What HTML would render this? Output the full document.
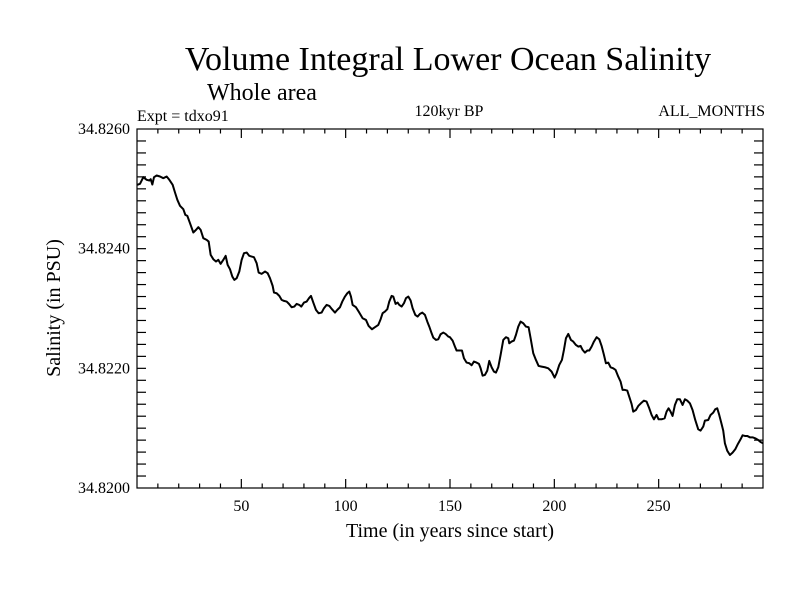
<!DOCTYPE html>
<html><head><meta charset="utf-8"><style>
html,body{margin:0;padding:0;background:#fff;width:800px;height:600px;overflow:hidden}
svg{display:block}
text{font-family:"Liberation Serif",serif;fill:#000}
</style></head><body>
<svg id="chart" width="800" height="600">
<text x="448" y="70" font-size="34" text-anchor="middle">Volume Integral Lower Ocean Salinity</text>
<text x="207" y="100" font-size="24">Whole area</text>
<text x="137" y="121" font-size="16">Expt = tdxo91</text>
<text x="449" y="116" font-size="16" text-anchor="middle">120kyr BP</text>
<text x="765" y="116" font-size="16" text-anchor="end">ALL_MONTHS</text>
<text x="450" y="537" font-size="20" text-anchor="middle">Time (in years since start)</text>
<text transform="translate(60,308) rotate(-90)" font-size="20" text-anchor="middle">Salinity (in PSU)</text>
<g id="axes"></g>
<g id="series"></g>
</svg>
<script>
const xTickLabels = [50, 100, 150, 200, 250];
const yTickLabels = [34.8200, 34.8220, 34.8240, 34.8260];
const years = [0.16,1.44,3.03,4.63,5.91,6.55,7.35,8.15,9.42,11.02,12.62,14.21,15.49,17.09,18.21,19.33,20.6,22.2,23.16,24.12,25.4,26.99,28.27,29.39,30.51,31.78,33.38,34.34,35.3,36.57,37.85,38.97,40.09,41.37,42.49,43.44,44.56,45.68,46.64,47.76,49.03,50.15,51.27,52.55,53.82,54.94,56.06,57.34,58.3,59.74,61.33,62.61,63.73,65.01,65.64,66.92,68.2,69.32,70.44,71.72,72.83,74.11,75.39,76.51,77.78,78.74,80.02,81.3,82.42,83.37,84.49,85.77,87.05,88.48,89.6,90.88,92.16,93.44,94.87,95.99,97.27,98.38,99.66,100.78,101.74,102.54,103.34,104.93,106.53,108.13,109.73,111.0,112.6,114.04,115.64,116.75,117.71,118.83,119.95,120.9,122.03,122.82,123.94,124.9,125.7,126.82,127.93,128.89,130.01,131.13,132.09,133.36,134.48,135.6,136.72,138.0,139.12,140.07,141.19,141.99,143.27,144.39,145.5,146.78,147.9,149.18,149.98,151.25,152.37,153.17,154.45,155.73,156.68,157.96,159.24,160.36,161.47,162.75,163.87,164.67,165.63,166.75,167.86,168.82,169.94,171.06,172.02,173.13,174.25,175.53,176.81,177.93,178.4,179.52,180.64,181.6,182.72,183.84,185.11,186.39,187.67,188.63,189.9,191.18,192.46,193.9,195.5,197.09,198.69,200.13,201.09,202.36,203.64,204.6,205.56,206.68,207.95,209.07,210.35,211.47,212.59,213.55,214.66,215.78,216.74,217.86,218.97,220.25,221.53,222.65,223.77,224.72,225.84,226.96,228.24,229.36,230.63,231.75,232.71,233.83,234.95,235.9,237.02,237.82,239.1,240.22,241.49,242.93,244.21,245.49,246.61,247.72,249.0,249.96,251.4,252.84,253.79,254.75,255.71,256.67,257.79,258.9,260.18,261.46,262.58,263.7,264.97,266.25,267.53,268.96,270.08,271.36,272.16,273.76,274.88,276.15,277.11,278.07,279.03,280.15,280.94,281.74,282.86,284.14,285.42,286.7,287.97,289.25,290.21,291.33,292.44,293.72,295.0,296.28,297.71,298.83,300.0];
const salinity = [34.825067,34.825084,34.825195,34.825151,34.825139,34.825162,34.825072,34.825195,34.825223,34.825206,34.825178,34.825206,34.825151,34.825067,34.824939,34.824816,34.824716,34.82466,34.824565,34.824548,34.824426,34.82427,34.824314,34.824359,34.824314,34.824175,34.824147,34.824119,34.823896,34.823824,34.823785,34.823813,34.823746,34.823813,34.82388,34.823729,34.823657,34.823534,34.823478,34.823506,34.823618,34.823813,34.823924,34.823935,34.82388,34.823868,34.823857,34.823757,34.823601,34.823579,34.823618,34.82359,34.823506,34.823378,34.823266,34.823255,34.823211,34.823144,34.823127,34.823116,34.823077,34.823021,34.823032,34.823077,34.82306,34.823032,34.823099,34.823116,34.823172,34.823211,34.823099,34.822977,34.822921,34.822932,34.823005,34.82306,34.823043,34.822988,34.822932,34.822977,34.823021,34.823116,34.8232,34.823255,34.823283,34.8232,34.82306,34.823021,34.822932,34.822837,34.822809,34.822709,34.822653,34.822687,34.822726,34.822821,34.822921,34.822949,34.822988,34.823116,34.823211,34.8232,34.823077,34.823099,34.82306,34.823032,34.823088,34.823172,34.8232,34.823133,34.823005,34.822893,34.822865,34.82291,34.822932,34.822893,34.822781,34.822698,34.822586,34.822514,34.822475,34.822486,34.82257,34.822598,34.822575,34.822531,34.82252,34.822464,34.822363,34.822297,34.822297,34.822297,34.822168,34.822096,34.822085,34.822051,34.822113,34.822096,34.822074,34.822001,34.821878,34.82189,34.821962,34.822124,34.822018,34.821945,34.821929,34.822018,34.822224,34.822475,34.82252,34.822503,34.822419,34.822447,34.822464,34.822559,34.822698,34.822781,34.822754,34.822698,34.822687,34.822503,34.822252,34.82214,34.82204,34.822029,34.822018,34.822001,34.821945,34.821845,34.821918,34.822057,34.82214,34.822308,34.822503,34.822575,34.822475,34.822447,34.822391,34.822363,34.822375,34.822308,34.822263,34.822297,34.822297,34.822363,34.822447,34.82252,34.822486,34.822375,34.822224,34.822085,34.822096,34.822018,34.822001,34.821973,34.821862,34.821778,34.821639,34.821639,34.821628,34.821527,34.821405,34.821276,34.821304,34.821371,34.821416,34.82146,34.821444,34.821332,34.821221,34.821148,34.821221,34.821148,34.821148,34.821165,34.821276,34.821332,34.821276,34.821204,34.821388,34.821483,34.821483,34.821388,34.821483,34.82146,34.821416,34.821304,34.821137,34.820981,34.820959,34.821026,34.821126,34.821137,34.821221,34.82126,34.821316,34.821332,34.821221,34.82107,34.820959,34.820747,34.820624,34.820552,34.820591,34.820647,34.820736,34.820814,34.820881,34.82087,34.82087,34.820847,34.820847,34.820831,34.820803,34.820769,34.820747];

const L=137,R=763,T=129,B=488,X0=0,X1=300,Y0=34.82,Y1=34.826;
function xs(v){return L+(v-X0)/(X1-X0)*(R-L);}
function ys(v){return B-(v-Y0)/(Y1-Y0)*(B-T);}
const NS="http://www.w3.org/2000/svg";
const axes=document.getElementById('axes');
function mk(tag,attrs,parent){const e=document.createElementNS(NS,tag);for(const k in attrs)e.setAttribute(k,attrs[k]);parent.appendChild(e);return e;}
const frame=mk('rect',{x:L,y:T,width:R-L,height:B-T,fill:'none',stroke:'#000','stroke-width':1.2},axes);


for(let yr=10;yr<X1;yr+=10){
  const major=yr%50===0, len=major?9:4.5, x=xs(yr);
  const t1=mk('line',{x1:x,x2:x,y1:B,y2:B-len,stroke:'#000','stroke-width':1.2},axes);
  
  
  const t2=mk('line',{x1:x,x2:x,y1:T,y2:T+len,stroke:'#000','stroke-width':1.2},axes);
  
  
}
xTickLabels.forEach(v=>{
  const t=mk('text',{x:xs(v),y:511,'font-size':16,'text-anchor':'middle'},axes);
  t.textContent=v;
  
  
});
for(let i=1;i<30;i++){
  const v=Y0+i*0.0002; if(v>=Y1-1e-9)break;
  const y=ys(v);
  const t1=mk('line',{x1:L,x2:L+9,y1:y,y2:y,stroke:'#000','stroke-width':1.2},axes);
  
  
  const t2=mk('line',{x1:R,x2:R-9,y1:y,y2:y,stroke:'#000','stroke-width':1.2},axes);
  
  
}
yTickLabels.forEach(v=>{
  const t=mk('text',{x:130,y:ys(v)+5,'font-size':16,'text-anchor':'end'},axes);
  t.textContent=v.toFixed(4);
  
  
});
const d=years.map((yr,i)=>(i?'L':'M')+xs(yr).toFixed(2)+' '+ys(salinity[i]).toFixed(2)).join(' ');
const line=mk('path',{d:d,fill:'none',stroke:'#000','stroke-width':2,'stroke-linejoin':'round'},document.getElementById('series'));


</script>
</body></html>
